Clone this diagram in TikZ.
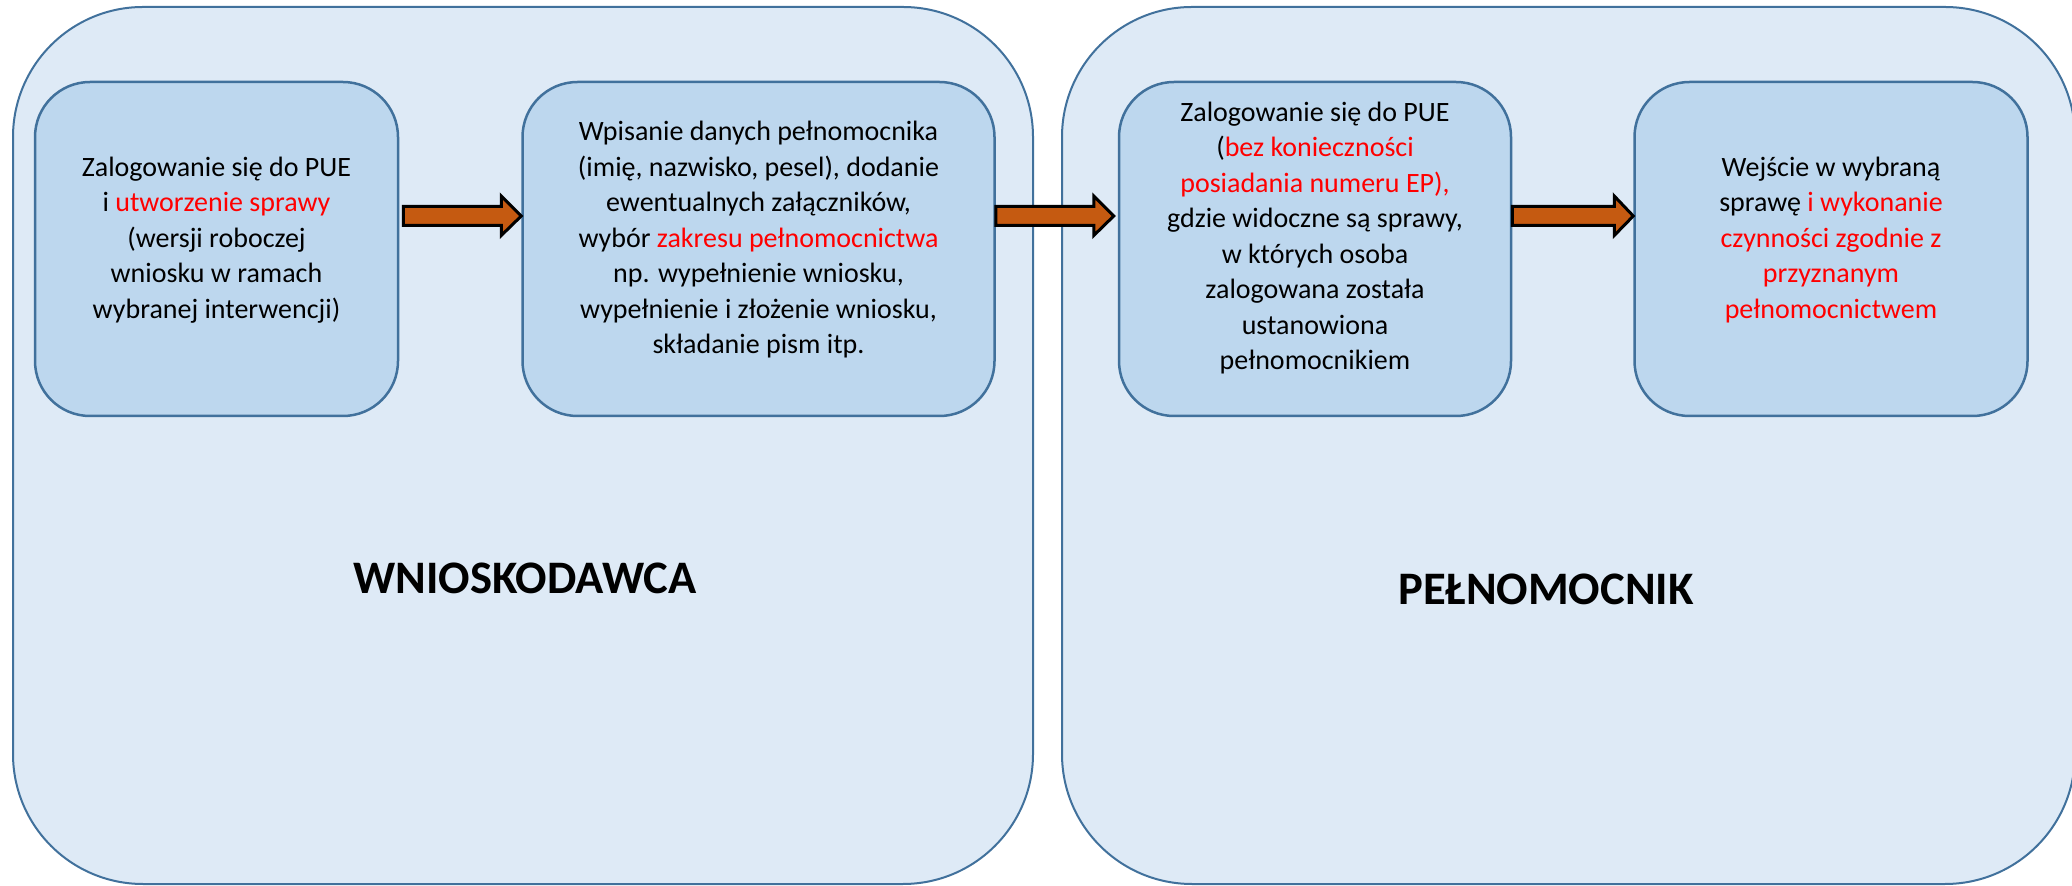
\documentclass[tikz,border=0pt]{standalone}
\usepackage{fontspec}
\setmainfont{Carlito}
\usetikzlibrary{calc}
\definecolor{outerfill}{HTML}{DEEAF6}
\definecolor{innerfill}{HTML}{BDD7EE}
\definecolor{edgeblue}{HTML}{41719C}
\definecolor{arrowfill}{HTML}{C55A11}
\definecolor{redtxt}{HTML}{FF0000}
\newcommand{\rd}[1]{\textcolor{redtxt}{#1}}
\begin{document}
\begin{tikzpicture}[x=0.5pt,y=-0.5pt,
  outerbox/.style={draw=edgeblue, fill=outerfill, line width=1pt, rounded corners=65pt, inner sep=0pt, minimum height=438.5pt},
  innerbox/.style={draw=edgeblue, fill=innerfill, line width=1.25pt, rounded corners=27.5pt, minimum height=167pt, inner sep=0pt},
  boxtext/.style={align=center, font=\fontsize{14}{17.75}\selectfont, inner sep=0pt},
  biglabel/.style={font=\fontsize{23.3}{28}\selectfont\bfseries, inner sep=0pt},
  bigarrow/.style={draw=black, fill=arrowfill, line width=1.5pt, line join=miter}]
\fill[white] (0,0) rectangle (2072,886);
\clip (0,0) rectangle (2072,886);
\useasboundingbox (0,0) rectangle (2072,886);

% outer containers
\node[outerbox, minimum width=510pt] (o1) at (523,445.5) {};
\node[outerbox, minimum width=506.5pt] (o2) at (1568.5,445.5) {};

% inner boxes
\node[innerbox, minimum width=181.5pt] (b1) at (216.5,249) {};
\node[innerbox, minimum width=236pt] (b2) at (758.5,249) {};
\node[innerbox, minimum width=196pt] (b3) at (1315,249) {};
\node[innerbox, minimum width=196.5pt] (b4) at (1831,249) {};

% texts
\node[boxtext] (t1) at (216.5,240) {Zalogowanie się do PUE\\ i \rd{utworzenie sprawy}\\ (wersji roboczej\\ wniosku w ramach\\ wybranej interwencji)};
\node[boxtext] (t2) at (758.5,240) {Wpisanie danych pełnomocnika\\ (imię, nazwisko, pesel), dodanie\\ ewentualnych załączników,\\ wybór \rd{zakresu pełnomocnictwa}\\ np. wypełnienie wniosku,\\ wypełnienie i złożenie wniosku,\\ składanie pism itp.};
\node[boxtext] (t3) at (1315,238) {Zalogowanie się do PUE\\ (\rd{bez konieczności}\\ \rd{posiadania numeru EP),}\\ gdzie widoczne są sprawy,\\ w których osoba\\ zalogowana została\\ ustanowiona\\ pełnomocnikiem};
\node[boxtext] (t4) at (1831,240) {Wejście w wybraną\\ sprawę \rd{i wykonanie}\\ \rd{czynności zgodnie z}\\ \rd{przyznanym}\\ \rd{pełnomocnictwem}};

% labels
\node[biglabel] (l1) at (525,578) {WNIOSKODAWCA};
\node[biglabel] (l2) at (1546,589) {PEŁNOMOCNIK};

% arrows
\draw[bigarrow] ($(b1.east)+(4,-23.5)$) -- ($(b2.west)+(-20,-23.5)$) -- ($(b2.west)+(-20,-13.5)$)
  -- ($(b2.west)+(0,-33)$) -- ($(b2.west)+(-20,-53)$) -- ($(b2.west)+(-20,-42.5)$)
  -- ($(b1.east)+(4,-42.5)$) -- cycle;
\draw[bigarrow] ($(b2.east)+(0,-23.5)$) -- ($(b3.west)+(-24,-23.5)$) -- ($(b3.west)+(-24,-13.5)$)
  -- ($(b3.west)+(-4,-33)$) -- ($(b3.west)+(-24,-53)$) -- ($(b3.west)+(-24,-42.5)$)
  -- ($(b2.east)+(0,-42.5)$) -- cycle;
\draw[bigarrow] ($(b3.east)+(0,-23.5)$) -- ($(b4.west)+(-19,-23.5)$) -- ($(b4.west)+(-19,-13.5)$)
  -- ($(b4.west)+(0,-33)$) -- ($(b4.west)+(-19,-53)$) -- ($(b4.west)+(-19,-42.5)$)
  -- ($(b3.east)+(0,-42.5)$) -- cycle;
\end{tikzpicture}
\end{document}
